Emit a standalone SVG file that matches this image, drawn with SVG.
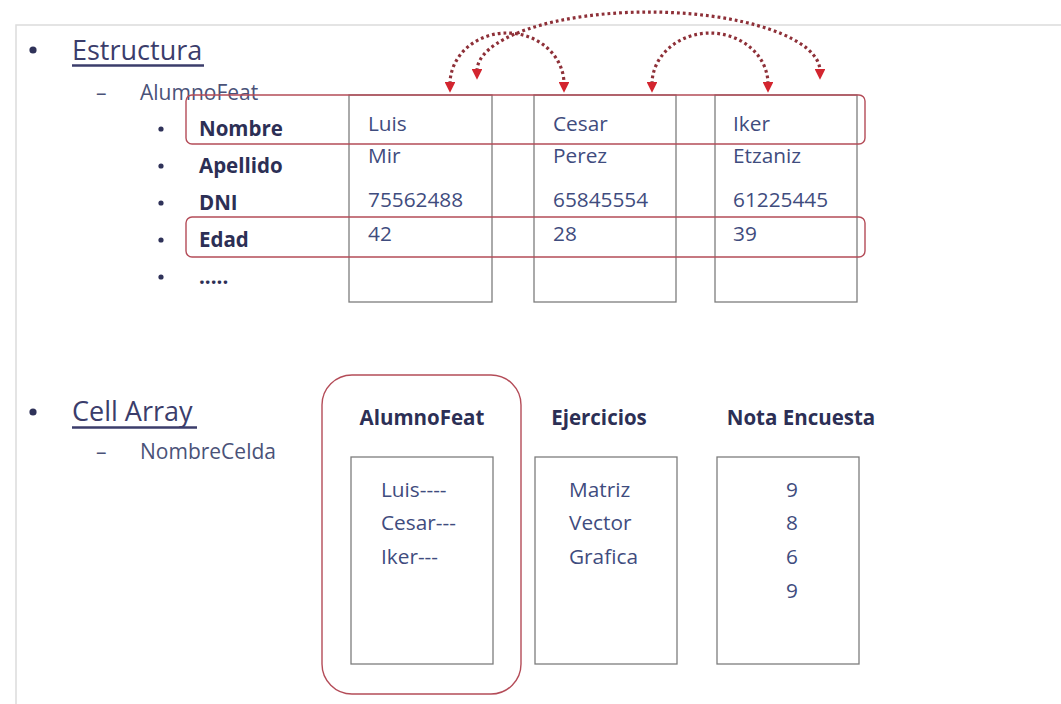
<svg xmlns="http://www.w3.org/2000/svg" width="1061" height="704" viewBox="0 0 1061 704">
  <style>
    .frame { stroke: #dcdcdc; stroke-width: 1.5; fill: none; }
    .title { font-family: "Open Sans", "Liberation Sans", sans-serif; font-size: 27px; fill: #3b3d6b; }
    .sub { font-family: "Open Sans", "Liberation Sans", sans-serif; font-size: 21px; fill: #4a5278; }
    .label { font-family: "Open Sans", "Liberation Sans", sans-serif; font-size: 20.5px; font-weight: bold; fill: #2c2f55; }
    .val { font-family: "Open Sans", "Liberation Sans", sans-serif; font-size: 20.8px; fill: #3f4c7e; }
    .head { font-family: "Open Sans", "Liberation Sans", sans-serif; font-size: 20.5px; font-weight: bold; fill: #2c2f55; }
    .box { fill: none; stroke: #7d7d7d; stroke-width: 1.3; }
    .hl { fill: none; stroke: #b44c58; stroke-width: 1.4; }
    .dot { fill: #2f3259; }
    .link { fill: none; stroke: #8e3038; stroke-width: 3.2; stroke-dasharray: 2.8 3; }
  </style>
  <defs>
    <marker id="tip" viewBox="0 0 10 10" refX="2" refY="5" markerWidth="3.4" markerHeight="3.4" orient="auto-start-reverse" markerUnits="strokeWidth">
      <path d="M0,0 L10,5 L0,10 Z" fill="#d3252f"/>
    </marker>
  </defs>

  <!-- slide frame -->
  <path class="frame" d="M1061,25 H16 V704"/>

  <!-- Estructura section -->
  <g id="estructura">
    <circle class="dot" cx="33" cy="50" r="3.6"/>
    <text class="title" x="72" y="60">Estructura</text>
    <line x1="72" y1="65.5" x2="204" y2="65.5" stroke="#3b3d6b" stroke-width="2.6"/>
    <text class="sub" x="96" y="100">–</text>
    <text class="sub" x="140" y="100">AlumnoFeat</text>
    <g id="field-labels">
      <circle class="dot" cx="161" cy="129" r="2.6"/>
      <text class="label" x="199" y="136">Nombre</text>
      <circle class="dot" cx="161" cy="166" r="2.6"/>
      <text class="label" x="199" y="173">Apellido</text>
      <circle class="dot" cx="161" cy="203" r="2.6"/>
      <text class="label" x="199" y="210">DNI</text>
      <circle class="dot" cx="161" cy="240" r="2.6"/>
      <text class="label" x="199" y="247">Edad</text>
      <circle class="dot" cx="161" cy="277" r="2.6"/>
      <text class="label" x="199" y="284">.....</text>
    </g>
  </g>

  <!-- struct instances -->
  <g id="alumno-luis">
    <rect class="box" x="349" y="95" width="143" height="207"/>
    <text class="val" x="368" y="131">Luis</text>
    <text class="val" x="368" y="163">Mir</text>
    <text class="val" x="368" y="207">75562488</text>
    <text class="val" x="368" y="241">42</text>
  </g>
  <g id="alumno-cesar">
    <rect class="box" x="534" y="95" width="142" height="207"/>
    <text class="val" x="553" y="131">Cesar</text>
    <text class="val" x="553" y="163">Perez</text>
    <text class="val" x="553" y="207">65845554</text>
    <text class="val" x="553" y="241">28</text>
  </g>
  <g id="alumno-iker">
    <rect class="box" x="715" y="95" width="142" height="207"/>
    <text class="val" x="733" y="131">Iker</text>
    <text class="val" x="733" y="163">Etzaniz</text>
    <text class="val" x="733" y="207">61225445</text>
    <text class="val" x="733" y="241">39</text>
  </g>

  <!-- row highlights -->
  <g id="row-nombre">
    <rect class="hl" x="186" y="95" width="679" height="49" rx="6"/>
  </g>
  <g id="row-edad">
    <rect class="hl" x="186" y="217" width="679" height="40" rx="6"/>
  </g>

  <!-- connectors between instances -->
  <g id="connectors">
    <path class="link" d="M450,84 A57,51 0 0 1 564,84" marker-start="url(#tip)" marker-end="url(#tip)"/>
    <path class="link" d="M652,84 A58,51 0 0 1 768,84" marker-start="url(#tip)" marker-end="url(#tip)"/>
    <path class="link" d="M477,71 A171.5,59 0 0 1 820,71" marker-start="url(#tip)" marker-end="url(#tip)"/>
  </g>

  <!-- Cell Array section -->
  <g id="cell-array">
    <circle class="dot" cx="33" cy="412" r="3.6"/>
    <text class="title" x="72" y="421">Cell Array</text>
    <line x1="72" y1="427.5" x2="197" y2="427.5" stroke="#3b3d6b" stroke-width="2.6"/>
    <text class="sub" x="96" y="459">–</text>
    <text class="sub" x="140" y="459">NombreCelda</text>
  </g>

  <g id="cell-alumnofeat">
    <rect class="hl" x="322" y="375" width="199" height="319" rx="30"/>
    <text class="head" x="422" y="425" text-anchor="middle">AlumnoFeat</text>
    <rect class="box" x="351" y="457" width="142" height="207"/>
    <text class="val" x="381" y="497">Luis----</text>
    <text class="val" x="381" y="530">Cesar---</text>
    <text class="val" x="381" y="564">Iker---</text>
  </g>
  <g id="cell-ejercicios">
    <text class="head" x="599" y="425" text-anchor="middle">Ejercicios</text>
    <rect class="box" x="535" y="457" width="142" height="207"/>
    <text class="val" x="569" y="497">Matriz</text>
    <text class="val" x="569" y="530">Vector</text>
    <text class="val" x="569" y="564">Grafica</text>
  </g>
  <g id="cell-nota">
    <text class="head" x="801" y="425" text-anchor="middle">Nota Encuesta</text>
    <rect class="box" x="717" y="457" width="142" height="207"/>
    <text class="val" x="792" y="497" text-anchor="middle">9</text>
    <text class="val" x="792" y="530" text-anchor="middle">8</text>
    <text class="val" x="792" y="564" text-anchor="middle">6</text>
    <text class="val" x="792" y="598" text-anchor="middle">9</text>
  </g>
</svg>
